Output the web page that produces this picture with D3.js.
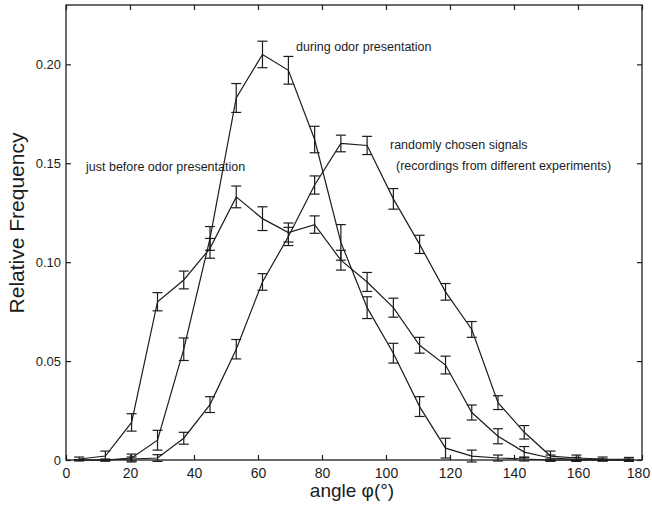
<!DOCTYPE html>
<html>
<head>
<meta charset="utf-8">
<script src="https://cdn.jsdelivr.net/npm/d3@7"></script>
<style>
  body { margin: 0; background: #fff; }
  svg { display: block; font-family: "Liberation Sans", Arial, sans-serif; }
</style>
</head>
<body>
<svg id="chart" width="652" height="506"></svg>
<script>
// bin centres of the angle histogram (22 bins over 0..180 deg)
var angles = [4.1, 12.3, 20.5, 28.6, 36.8, 45.0, 53.2, 61.4, 69.5, 77.7, 85.9,
  94.1, 102.3, 110.5, 118.6, 126.8, 135.0, 143.2, 151.4, 159.5, 167.7, 175.9];

var beforeVals = [0.0005, 0.002, 0.019, 0.080, 0.091, 0.107, 0.133, 0.122, 0.115, 0.119, 0.101,
  0.090, 0.077, 0.058, 0.048, 0.024, 0.012, 0.004, 0.001, 0.0003, 0, 0];
var beforeErr = [0.001, 0.0025, 0.0044, 0.0046, 0.0045, 0.005, 0.0055, 0.006, 0.0048, 0.0044, 0.005,
  0.0048, 0.0048, 0.004, 0.0045, 0.0038, 0.0038, 0.0028, 0.0015, 0.001, 0.0005, 0.0005];

var duringVals = [0, 0, 0.001, 0.010, 0.056, 0.112, 0.183, 0.205, 0.197, 0.162, 0.110,
  0.077, 0.054, 0.027, 0.006, 0.002, 0.001, 0.0005, 0, 0, 0, 0];
var duringErr = [0, 0.0005, 0.002, 0.005, 0.0057, 0.006, 0.0073, 0.0067, 0.007, 0.0067, 0.009,
  0.0055, 0.005, 0.005, 0.005, 0.003, 0.0015, 0.001, 0.0005, 0, 0, 0];

var randomVals = [0, 0, 0.0005, 0.001, 0.011, 0.028, 0.056, 0.090, 0.113, 0.139, 0.160,
  0.159, 0.132, 0.109, 0.085, 0.066, 0.029, 0.014, 0.002, 0.001, 0.0005, 0.0003];
var randomErr = [0, 0, 0.001, 0.0017, 0.003, 0.004, 0.0049, 0.0042, 0.0046, 0.0046, 0.0042,
  0.0046, 0.0052, 0.0046, 0.0042, 0.004, 0.0035, 0.0034, 0.0025, 0.0015, 0.001, 0.001];

var xTicks = [0, 20, 40, 60, 80, 100, 120, 140, 160, 180];
var yTicks = [0, 0.05, 0.10, 0.15, 0.20];
var yTickLabels = ["0", "0.05", "0.10", "0.15", "0.20"];

var labels = [
  { text: "during odor presentation", x: 296, y: 51 },
  { text: "just before odor presentation", x: 86, y: 171 },
  { text: "randomly chosen signals", x: 390, y: 149 },
  { text: "(recordings from different experiments)", x: 396, y: 170 }
];

var svg = d3.select("#chart");
var pLeft = 66, pRight = 642, pTop = 5, pBottom = 460;

var x = d3.scaleLinear().domain([0, 180]).range([pLeft, pRight]);
var y = d3.scaleLinear().domain([0, 0.23]).range([pBottom, pTop]);

var ink = "#1c1c1c";

// frame
svg.append("rect")
  .attr("x", pLeft).attr("y", pTop)
  .attr("width", pRight - pLeft).attr("height", pBottom - pTop)
  .attr("fill", "none").attr("stroke", ink).attr("stroke-width", 1.3);

// axes with inward ticks
var xAxis = svg.append("g").attr("transform", "translate(0," + pBottom + ")")
  .call(d3.axisBottom(x).tickValues(xTicks).tickSize(-5).tickPadding(8).tickFormat(d3.format("d")));
var xTop = svg.append("g").attr("transform", "translate(0," + pTop + ")")
  .call(d3.axisTop(x).tickValues(xTicks).tickSize(-5).tickFormat(""));
var yAxis = svg.append("g").attr("transform", "translate(" + pLeft + ",0)")
  .call(d3.axisLeft(y).tickValues(yTicks).tickSize(-5).tickPadding(5)
    .tickFormat(function (d, i) { return yTickLabels[i]; }));
var yRight = svg.append("g").attr("transform", "translate(" + pRight + ",0)")
  .call(d3.axisRight(y).tickValues(yTicks).tickSize(-5).tickFormat(""));

[xAxis, xTop, yAxis, yRight].forEach(function (g) {
  g.select(".domain").remove();
  g.selectAll("line").attr("stroke", ink).attr("stroke-width", 1.2);
  g.selectAll("text").attr("fill", ink).attr("font-family", "Liberation Sans, Arial, sans-serif");
});
xAxis.selectAll("text").attr("font-size", 14);
xAxis.selectAll("text").filter(function (d) { return d === 180; }).attr("dx", -4);
yAxis.selectAll("text").attr("font-size", 13);

// series
var series = [
  { vals: beforeVals, err: beforeErr },
  { vals: duringVals, err: duringErr },
  { vals: randomVals, err: randomErr }
];

var line = d3.line()
  .x(function (d) { return x(d.a); })
  .y(function (d) { return y(d.v); });

series.forEach(function (s) {
  var pts = angles.map(function (a, i) { return { a: a, v: s.vals[i], e: s.err[i] }; });
  var g = svg.append("g");
  g.append("path")
    .attr("d", line(pts))
    .attr("fill", "none").attr("stroke", ink).attr("stroke-width", 1.2);

  var bars = g.selectAll(".eb").data(pts).enter().append("g");
  bars.append("line")
    .attr("x1", function (d) { return x(d.a); })
    .attr("x2", function (d) { return x(d.a); })
    .attr("y1", function (d) { return y(d.v - d.e); })
    .attr("y2", function (d) { return y(d.v + d.e); });
  bars.append("line")
    .attr("x1", function (d) { return x(d.a) - 5; })
    .attr("x2", function (d) { return x(d.a) + 5; })
    .attr("y1", function (d) { return y(d.v + d.e); })
    .attr("y2", function (d) { return y(d.v + d.e); });
  bars.append("line")
    .attr("x1", function (d) { return x(d.a) - 5; })
    .attr("x2", function (d) { return x(d.a) + 5; })
    .attr("y1", function (d) { return y(d.v - d.e); })
    .attr("y2", function (d) { return y(d.v - d.e); });
  bars.selectAll("line").attr("stroke", ink).attr("stroke-width", 1.2);
});

// annotations
svg.selectAll(".lbl").data(labels).enter().append("text")
  .attr("x", function (d) { return d.x; })
  .attr("y", function (d) { return d.y; })
  .attr("font-size", 12.5)
  .attr("fill", ink)
  .text(function (d) { return d.text; });

// axis titles
svg.append("text")
  .attr("x", 352).attr("y", 497)
  .attr("text-anchor", "middle")
  .attr("font-size", 19)
  .attr("fill", ink)
  .text("angle \u03c6(\u00b0)");

svg.append("text")
  .attr("transform", "translate(24,223) rotate(-90)")
  .attr("text-anchor", "middle")
  .attr("font-size", 21)
  .attr("fill", ink)
  .text("Relative Frequency");
</script>
</body>
</html>
